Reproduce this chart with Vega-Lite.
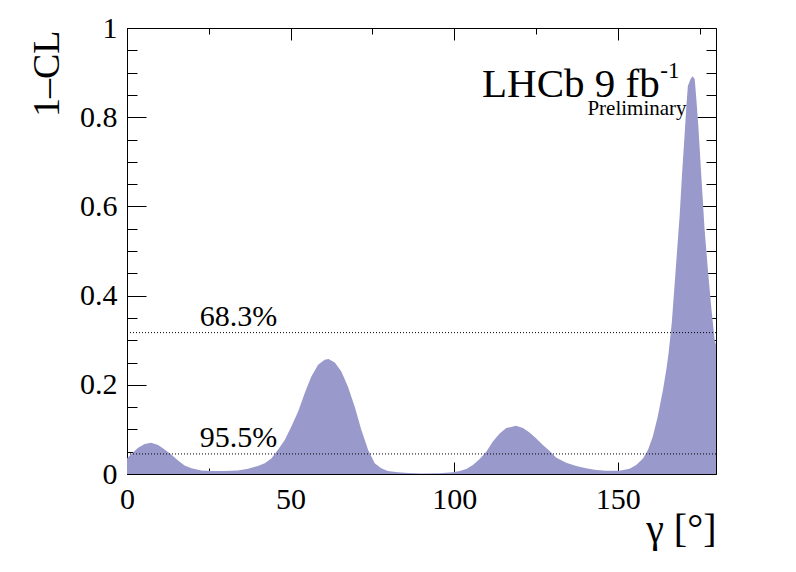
{
  "$schema": "https://vega.github.io/schema/vega-lite/v6.json",
  "width": 589,
  "height": 446,
  "autosize": "none",
  "padding": {"left": 127, "top": 28, "right": 80, "bottom": 98},
  "background": "white",
  "config": {
    "font": "Liberation Serif, Times New Roman, DejaVu Serif, serif",
    "view": {"stroke": "black", "strokeWidth": 1},
    "axis": {"domain": false, "grid": false, "tickColor": "black", "tickWidth": 1, "labelFont": "Liberation Serif, Times New Roman, DejaVu Serif, serif", "labelColor": "black", "titleFont": "Liberation Serif, Times New Roman, DejaVu Serif, serif", "titleColor": "black", "titleFontWeight": "normal", "labelFlush": false, "labelOverlap": false, "labelBound": false},
    "text": {"font": "Liberation Serif, Times New Roman, DejaVu Serif, serif"}
  },
  "datasets": {
    "curve": [
      {"gamma": 0, "cl": 0.035},
      {"gamma": 1.3, "cl": 0.045},
      {"gamma": 3.4, "cl": 0.059},
      {"gamma": 5.4, "cl": 0.067},
      {"gamma": 7.4, "cl": 0.070},
      {"gamma": 9.5, "cl": 0.065},
      {"gamma": 11.5, "cl": 0.055},
      {"gamma": 13.6, "cl": 0.043},
      {"gamma": 15.6, "cl": 0.030},
      {"gamma": 17.6, "cl": 0.019},
      {"gamma": 19.7, "cl": 0.013},
      {"gamma": 22.7, "cl": 0.008},
      {"gamma": 25.8, "cl": 0.007},
      {"gamma": 29.8, "cl": 0.007},
      {"gamma": 33.9, "cl": 0.008},
      {"gamma": 37.0, "cl": 0.012},
      {"gamma": 40.0, "cl": 0.018},
      {"gamma": 42.1, "cl": 0.024},
      {"gamma": 44.1, "cl": 0.035},
      {"gamma": 46.1, "cl": 0.054},
      {"gamma": 48.2, "cl": 0.076},
      {"gamma": 50.2, "cl": 0.106},
      {"gamma": 52.3, "cl": 0.140},
      {"gamma": 54.3, "cl": 0.181},
      {"gamma": 56.3, "cl": 0.218},
      {"gamma": 58.4, "cl": 0.245},
      {"gamma": 60.4, "cl": 0.256},
      {"gamma": 61.6, "cl": 0.258},
      {"gamma": 63.5, "cl": 0.250},
      {"gamma": 65.5, "cl": 0.230},
      {"gamma": 67.5, "cl": 0.196},
      {"gamma": 69.6, "cl": 0.151},
      {"gamma": 71.6, "cl": 0.099},
      {"gamma": 73.7, "cl": 0.054},
      {"gamma": 75.7, "cl": 0.024},
      {"gamma": 77.7, "cl": 0.013},
      {"gamma": 79.7, "cl": 0.007},
      {"gamma": 82.8, "cl": 0.004},
      {"gamma": 86.0, "cl": 0.002},
      {"gamma": 90.0, "cl": 0.001},
      {"gamma": 95.5, "cl": 0.0015},
      {"gamma": 99.6, "cl": 0.004},
      {"gamma": 101.7, "cl": 0.007},
      {"gamma": 103.7, "cl": 0.011},
      {"gamma": 105.7, "cl": 0.020},
      {"gamma": 107.7, "cl": 0.033},
      {"gamma": 109.8, "cl": 0.050},
      {"gamma": 111.8, "cl": 0.073},
      {"gamma": 113.9, "cl": 0.091},
      {"gamma": 115.9, "cl": 0.103},
      {"gamma": 118.9, "cl": 0.108},
      {"gamma": 121.0, "cl": 0.103},
      {"gamma": 123.0, "cl": 0.093},
      {"gamma": 125.0, "cl": 0.080},
      {"gamma": 127.1, "cl": 0.065},
      {"gamma": 129.1, "cl": 0.052},
      {"gamma": 131.1, "cl": 0.037},
      {"gamma": 134.2, "cl": 0.025},
      {"gamma": 137.3, "cl": 0.018},
      {"gamma": 140.3, "cl": 0.013},
      {"gamma": 143.4, "cl": 0.009},
      {"gamma": 146.4, "cl": 0.0075},
      {"gamma": 150.5, "cl": 0.0075},
      {"gamma": 153.6, "cl": 0.012},
      {"gamma": 155.6, "cl": 0.020},
      {"gamma": 157.7, "cl": 0.035},
      {"gamma": 159.2, "cl": 0.054},
      {"gamma": 160.7, "cl": 0.084},
      {"gamma": 162.2, "cl": 0.129},
      {"gamma": 163.8, "cl": 0.189},
      {"gamma": 164.8, "cl": 0.233},
      {"gamma": 165.5, "cl": 0.27},
      {"gamma": 166.5, "cl": 0.34},
      {"gamma": 167.3, "cl": 0.42},
      {"gamma": 168.0, "cl": 0.49},
      {"gamma": 168.9, "cl": 0.58},
      {"gamma": 169.6, "cl": 0.67},
      {"gamma": 170.4, "cl": 0.76},
      {"gamma": 171.0, "cl": 0.83},
      {"gamma": 171.4, "cl": 0.87},
      {"gamma": 172.3, "cl": 0.887},
      {"gamma": 172.9, "cl": 0.892},
      {"gamma": 173.5, "cl": 0.885},
      {"gamma": 174.0, "cl": 0.84},
      {"gamma": 174.6, "cl": 0.78},
      {"gamma": 175.5, "cl": 0.67},
      {"gamma": 176.5, "cl": 0.55},
      {"gamma": 177.5, "cl": 0.46},
      {"gamma": 178.6, "cl": 0.37},
      {"gamma": 179.6, "cl": 0.30},
      {"gamma": 180, "cl": 0.29}
    ],
    "levels": [
      {"level": 0.317, "gamma": 22.2, "label": "68.3%"},
      {"level": 0.045, "gamma": 22.2, "label": "95.5%"}
    ],
    "exp": [{"gamma": 162.8, "cl": 0.846, "label": "LHCb 9 fb"}],
    "sup": [{"gamma": 163.0, "cl": 0.889, "label": "-1"}],
    "prelim": [{"gamma": 171.0, "cl": 0.806, "label": "Preliminary"}]
  },
  "data": {"name": "curve"},
  "resolve": {"axis": {"x": "independent", "y": "independent"}},
  "layer": [
    {
      "mark": {"type": "area", "color": "#9999cc", "interpolate": "linear"},
      "encoding": {
        "x": {"field": "gamma", "type": "quantitative", "scale": {"domain": [0, 180], "nice": false, "zero": false},
          "axis": {"orient": "bottom", "values": [0, 50, 100, 150], "format": "d", "tickSize": -12, "labelPadding": 22, "labelFontSize": 30,
            "title": "γ [°]", "titleFontSize": 40, "titleAnchor": "end", "titleAlign": "right", "titleBaseline": "alphabetic", "titleX": 589, "titleY": 67}},
        "y": {"field": "cl", "type": "quantitative", "scale": {"domain": [0, 1], "nice": false, "zero": false},
          "axis": {"orient": "left", "values": [0, 0.2, 0.4, 0.6, 0.8, 1], "labelExpr": "'' + datum.value", "tickSize": -19, "labelPadding": 29, "labelFontSize": 30,
            "title": "1–CL", "titleFontSize": 38, "titleAngle": -90, "titleAlign": "right", "titleBaseline": "alphabetic", "titleX": -69, "titleY": 2}}
      }
    },
    {
      "mark": {"type": "line", "opacity": 0},
      "encoding": {
        "x": {"field": "gamma", "type": "quantitative", "scale": {"domain": [0, 180], "nice": false, "zero": false},
          "axis": {"orient": "bottom", "values": [25, 75, 125, 175], "tickSize": -6, "labels": false, "title": null}},
        "y": {"field": "cl", "type": "quantitative", "scale": {"domain": [0, 1], "nice": false, "zero": false},
          "axis": {"orient": "left", "values": [0.05, 0.1, 0.15, 0.25, 0.3, 0.35, 0.45, 0.5, 0.55, 0.65, 0.7, 0.75, 0.85, 0.9, 0.95], "tickSize": -10, "labels": false, "title": null}}
      }
    },
    {
      "mark": {"type": "line", "opacity": 0},
      "encoding": {
        "x": {"field": "gamma", "type": "quantitative", "scale": {"domain": [0, 180], "nice": false, "zero": false},
          "axis": {"orient": "top", "values": [0, 50, 100, 150], "tickSize": -12, "labels": false, "title": null}},
        "y": {"field": "cl", "type": "quantitative", "scale": {"domain": [0, 1], "nice": false, "zero": false},
          "axis": {"orient": "right", "values": [0, 0.2, 0.4, 0.6, 0.8, 1], "tickSize": -19, "labels": false, "title": null}}
      }
    },
    {
      "mark": {"type": "line", "opacity": 0},
      "encoding": {
        "x": {"field": "gamma", "type": "quantitative", "scale": {"domain": [0, 180], "nice": false, "zero": false},
          "axis": {"orient": "top", "values": [25, 75, 125, 175], "tickSize": -6, "labels": false, "title": null}},
        "y": {"field": "cl", "type": "quantitative", "scale": {"domain": [0, 1], "nice": false, "zero": false},
          "axis": {"orient": "right", "values": [0.05, 0.1, 0.15, 0.25, 0.3, 0.35, 0.45, 0.5, 0.55, 0.65, 0.7, 0.75, 0.85, 0.9, 0.95], "tickSize": -10, "labels": false, "title": null}}
      }
    },
    {
      "data": {"name": "levels"},
      "mark": {"type": "rule", "color": "black", "strokeWidth": 1, "strokeDash": [1, 2]},
      "encoding": {
        "y": {"field": "level", "type": "quantitative", "scale": {"domain": [0, 1], "nice": false, "zero": false}, "axis": null}
      }
    },
    {
      "data": {"name": "levels"},
      "mark": {"type": "text", "align": "left", "baseline": "alphabetic", "dy": -7, "fontSize": 30, "color": "black"},
      "encoding": {
        "x": {"field": "gamma", "type": "quantitative", "scale": {"domain": [0, 180], "nice": false, "zero": false}, "axis": null},
        "y": {"field": "level", "type": "quantitative", "scale": {"domain": [0, 1], "nice": false, "zero": false}, "axis": null},
        "text": {"field": "label"}
      }
    },
    {
      "data": {"name": "exp"},
      "mark": {"type": "text", "align": "right", "baseline": "alphabetic", "fontSize": 41, "color": "black"},
      "encoding": {
        "x": {"field": "gamma", "type": "quantitative", "scale": {"domain": [0, 180], "nice": false, "zero": false}, "axis": null},
        "y": {"field": "cl", "type": "quantitative", "scale": {"domain": [0, 1], "nice": false, "zero": false}, "axis": null},
        "text": {"field": "label"}
      }
    },
    {
      "data": {"name": "sup"},
      "mark": {"type": "text", "align": "left", "baseline": "alphabetic", "fontSize": 23, "color": "black"},
      "encoding": {
        "x": {"field": "gamma", "type": "quantitative", "scale": {"domain": [0, 180], "nice": false, "zero": false}, "axis": null},
        "y": {"field": "cl", "type": "quantitative", "scale": {"domain": [0, 1], "nice": false, "zero": false}, "axis": null},
        "text": {"field": "label"}
      }
    },
    {
      "data": {"name": "prelim"},
      "mark": {"type": "text", "align": "right", "baseline": "alphabetic", "fontSize": 21, "color": "black"},
      "encoding": {
        "x": {"field": "gamma", "type": "quantitative", "scale": {"domain": [0, 180], "nice": false, "zero": false}, "axis": null},
        "y": {"field": "cl", "type": "quantitative", "scale": {"domain": [0, 1], "nice": false, "zero": false}, "axis": null},
        "text": {"field": "label"}
      }
    }
  ]
}
